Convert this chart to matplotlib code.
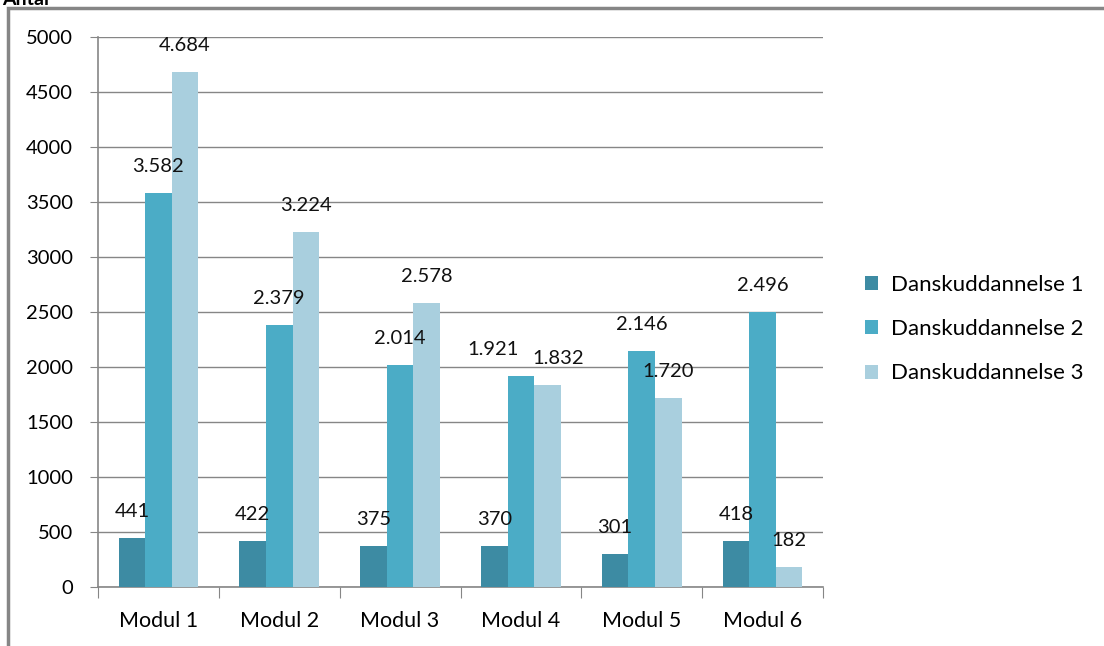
import matplotlib.pyplot as plt
import numpy as np
from matplotlib.patches import Rectangle

categories = ["Modul 1", "Modul 2", "Modul 3", "Modul 4", "Modul 5", "Modul 6"]
series_names = ["Danskuddannelse 1", "Danskuddannelse 2", "Danskuddannelse 3"]
d1 = [441, 422, 375, 370, 301, 418]
d2 = [3582, 2379, 2014, 1921, 2146, 2496]
d3 = [4684, 3224, 2578, 1832, 1720, 182]
colors = ["#3D8BA3", "#4BACC6", "#A9CFDE"]

# sideways nudges (points) for labels that collide, keyed (series, category)
label_nudge = {(1, 3): -20, (2, 3): 8}


def _fmt(v: int) -> str:
    # danish thousands separator
    return f"{v:,}".replace(",", ".")


plt.rcParams["font.family"] = ["Lato", "DejaVu Sans"]
FS = 14.5

fig = plt.figure(figsize=(11.04, 6.46), dpi=100)
ax = fig.add_axes([98 / 1104, 1 - 587 / 646, (823 - 98) / 1104, (587 - 37) / 646])

x = np.arange(len(categories))
width = 0.22
for i, (vals, name) in enumerate(zip([d1, d2, d3], series_names)):
    pos = x + (i - 1) * width
    ax.bar(pos, vals, width, color=colors[i], label=name, zorder=3)
    for j, (p, v) in enumerate(zip(pos, vals)):
        ax.annotate(_fmt(v), (p, v), xytext=(label_nudge.get((i, j), 0), 13),
                    textcoords="offset points", ha="center", va="bottom",
                    fontsize=FS, color="#111111", zorder=4)

ax.set_xlim(-0.5, len(categories) - 0.5)
ax.set_ylim(0, 5000)
ax.set_yticks(range(0, 5001, 500))
ax.tick_params(axis="y", labelsize=FS, length=6, color="#868686", pad=12)
ax.grid(axis="y", color="#868686", lw=1, zorder=0)

ax.set_xticks(np.arange(-0.5, len(categories), 1))
ax.set_xticklabels([])
ax.tick_params(axis="x", which="major", length=8, color="#868686")
ax.set_xticks(x, minor=True)
ax.set_xticklabels(categories, minor=True, fontsize=15.5)
ax.tick_params(axis="x", which="minor", length=0, pad=17)

for s in ["top", "right"]:
    ax.spines[s].set_visible(False)
for s in ["left", "bottom"]:
    ax.spines[s].set_color("#868686")
    ax.spines[s].set_linewidth(1.2)

ax.legend(loc="center left", bbox_to_anchor=(1.03, 0.469), frameon=False,
          fontsize=16, handlelength=0.6, handleheight=0.6, labelspacing=1.1,
          handletextpad=0.6)

# outer chart frame, cropped at right and bottom
fig.patches.append(Rectangle((8 / 1104, -0.1), 1.2, 1 - 7.5 / 646 + 0.1,
                             transform=fig.transFigure, fill=False,
                             edgecolor="#868686", lw=2.5))
fig.text(2 / 1104, 1 - 5 / 646, "Antal", fontsize=14, fontweight="bold",
         va="baseline", ha="left")

fig.savefig("out.png", dpi=100)
